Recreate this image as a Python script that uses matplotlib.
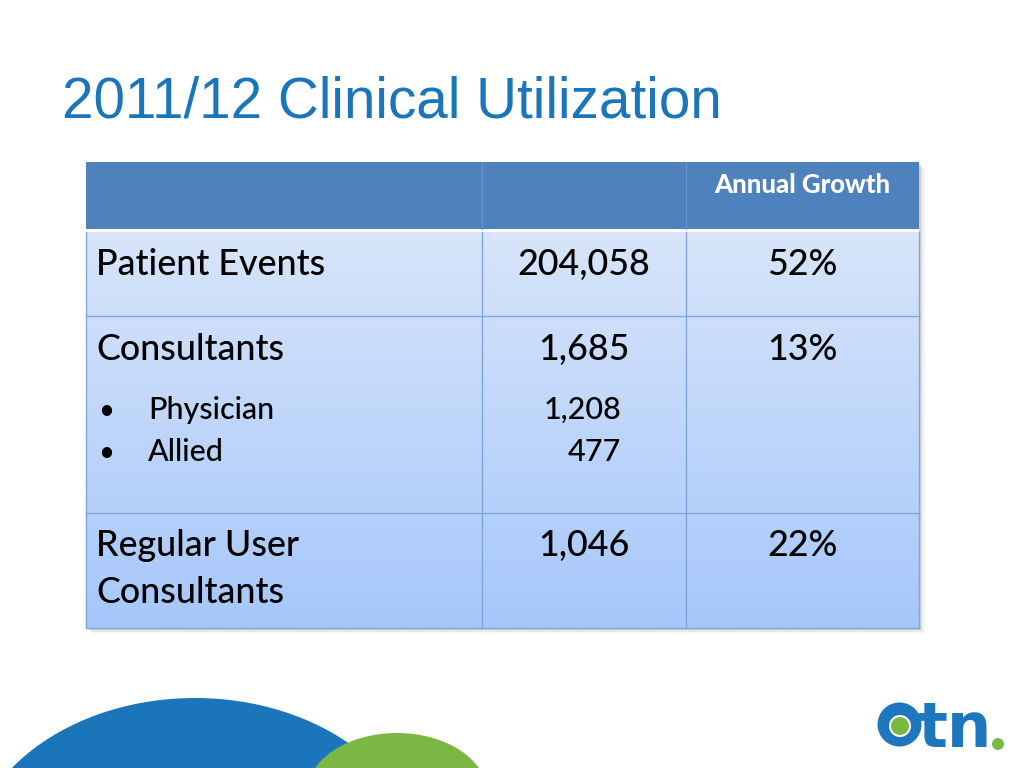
import numpy as np
import matplotlib.pyplot as plt
from matplotlib.patches import Rectangle, Ellipse, Circle

# table content
row_labels = ['Patient Events', 'Consultants', 'Regular User\nConsultants']
row_values = ['204,058', '1,685', '1,046']
row_growth = ['52%', '13%', '22%']
sub_labels = ['Physician', 'Allied']
sub_values = ['1,208', '477']
header = ['', '', 'Annual Growth']
title = '2011/12 Clinical Utilization'

body_font = 'Lato'
blue = '#1B75BB'
green = '#7AB843'

fig = plt.figure(figsize=(10.24, 7.68), dpi=100)
ax = fig.add_axes([0, 0, 1, 1])
ax.set_xlim(0, 1024)
ax.set_ylim(768, 0)
ax.axis('off')

# title
ax.text(62, 118, title, fontsize=40.8, color=blue, family='Liberation Sans',
        va='baseline', ha='left')

# table geometry (pixels)
x_cols = [86, 482, 686, 919]
y_rows = [232, 316, 513, 628]
y_head = (162, 229)

# shadow
for i, a in enumerate([0.10, 0.06, 0.03]):
    d = 2 + i * 2
    ax.add_patch(Rectangle((x_cols[0] + d, y_head[0] + d), x_cols[-1] - x_cols[0],
                           y_rows[-1] - y_head[0], color='black', alpha=a, lw=0, zorder=1))

# header
ax.add_patch(Rectangle((x_cols[0], y_head[0]), x_cols[-1] - x_cols[0],
                       y_head[1] - y_head[0], color='#4F81BD', lw=0, zorder=2))
for xc in x_cols[1:-1]:
    ax.plot([xc, xc], y_head, color='#6A96CC', lw=0.8, zorder=3)
ax.add_patch(Rectangle((x_cols[0], y_head[1]), x_cols[-1] - x_cols[0],
                       y_rows[0] - y_head[1], color='white', lw=0, zorder=2))

# body gradient
top_c = np.array([216, 229, 251]) / 255
bot_c = np.array([166, 199, 250]) / 255
t = np.linspace(0, 1, 200)[:, None]
grad = (top_c * (1 - t) + bot_c * t)[:, None, :]
ax.imshow(grad, extent=(x_cols[0], x_cols[-1], y_rows[-1], y_rows[0]),
          aspect='auto', zorder=2, interpolation='bilinear')
ax.set_xlim(0, 1024)
ax.set_ylim(768, 0)

line_c = '#7EA6DA'
for yr in y_rows[1:]:
    ax.plot([x_cols[0], x_cols[-1]], [yr, yr], color=line_c, lw=1.0, zorder=3)
for xc in x_cols:
    ax.plot([xc, xc], [y_rows[0], y_rows[-1]], color=line_c, lw=1.0, zorder=3)

# header text
ax.text((x_cols[2] + x_cols[3]) / 2, 193, header[2], fontsize=18.5, color='white',
        family=body_font, weight='black', ha='center', va='baseline', zorder=4)

# row text
baselines = [275, 360, 556]
fs = 25.8
for i, (lab, val, gr) in enumerate(zip(row_labels, row_values, row_growth)):
    yb = baselines[i]
    lines = lab.split('\n')
    for j, ln in enumerate(lines):
        ax.text(96, yb + j * 47, ln, fontsize=fs, family=body_font, weight='medium',
                color='black', ha='left', va='baseline', zorder=4)
    ax.text((x_cols[1] + x_cols[2]) / 2, yb, val, fontsize=fs, family=body_font,
            weight='medium', color='black', ha='center', va='baseline', zorder=4)
    ax.text((x_cols[2] + x_cols[3]) / 2, yb, gr, fontsize=fs, family=body_font,
            weight='medium', color='black', ha='center', va='baseline', zorder=4)

sub_base = [419, 461]
for lab, val, yb in zip(sub_labels, sub_values, sub_base):
    ax.text(98, yb, '\u2022', fontsize=20, family=body_font, ha='left', va='baseline', zorder=4)
    ax.text(148, yb, lab, fontsize=22, family=body_font, weight='medium',
            ha='left', va='baseline', zorder=4)
    ax.text(621, yb, val, fontsize=22, family=body_font, weight='medium',
            ha='right', va='baseline', zorder=4)

# decorative arcs at bottom
ax.add_patch(Ellipse((195, 871), 456, 346, color=blue, lw=0, zorder=2))
ax.add_patch(Ellipse((397, 793), 180, 120, color=green, lw=0, zorder=3))

# otn logo
ax.add_patch(Circle((899.5, 724.5), 22, color='#1E77BE', lw=0, zorder=5))
ax.add_patch(Circle((900, 726), 11, color='white', lw=0, zorder=6))
ax.add_patch(Circle((900, 726), 9, color=green, lw=0, zorder=7))
ax.text(917, 747, 'tn', fontsize=45, family='DejaVu Sans', weight='bold',
        color='#1E77BE', ha='left', va='baseline', zorder=5)
ax.add_patch(Circle((998, 744), 6, color=green, lw=0, zorder=6))

fig.savefig('out.png', dpi=100)
